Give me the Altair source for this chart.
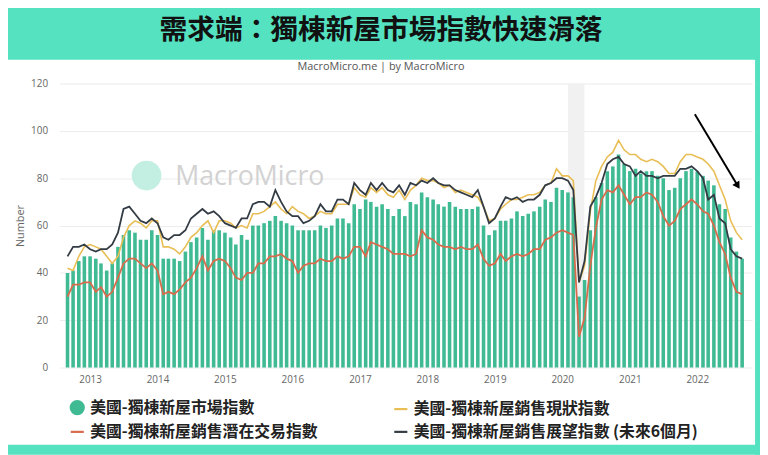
import altair as alt
import pandas as pd

# ---------------- data ----------------
months = pd.date_range("2012-09-01", periods=121, freq="MS")

hmi = [40, 41, 45, 47,
       47, 46, 44, 41, 44, 51, 56, 58, 57, 54, 54, 58,
       56, 46, 46, 46, 45, 49, 53, 55, 59, 54, 58, 58,
       57, 55, 52, 56, 54, 60, 60, 61, 62, 64, 62, 61,
       60, 58, 58, 58, 58, 60, 59, 60, 63, 63, 61, 69,
       67, 71, 70, 68, 69, 67, 64, 67, 64, 70, 69, 74,
       72, 71, 69, 68, 70, 68, 67, 67, 67, 68, 60, 56,
       58, 62, 62, 63, 66, 64, 65, 66, 68, 71, 70, 76,
       75, 74, 72, 30, 37, 58, 72, 78, 83, 85, 90, 86,
       83, 84, 82, 83, 83, 81, 80, 75, 76, 80, 83, 84,
       83, 81, 79, 77, 69, 67, 55, 49, 46]

current = [42, 41, 47, 51,
           52, 51, 50, 47, 44, 47, 55, 60, 62, 61, 59, 62,
           62, 51, 51, 50, 48, 51, 55, 57, 60, 62, 57, 62,
           62, 61, 59, 60, 59, 65, 65, 66, 68, 70, 67, 65,
           68, 66, 65, 63, 64, 66, 65, 65, 69, 69, 69, 76,
           73, 72, 76, 74, 76, 73, 72, 75, 71, 75, 77, 80,
           79, 79, 78, 76, 77, 74, 75, 74, 73, 72, 68, 62,
           63, 67, 69, 71, 71, 72, 73, 73, 74, 77, 78, 84,
           81, 81, 79, 36, 43, 66, 79, 85, 89, 91, 96, 92,
           90, 90, 88, 87, 88, 87, 85, 82, 82, 87, 90, 90,
           89, 88, 86, 83, 77, 71, 62, 57, 54]

traffic = [30, 35, 35, 36,
           36, 32, 34, 30, 32, 38, 44, 46, 46, 44, 42, 44,
           41, 31, 32, 31, 33, 36, 38, 42, 47, 41, 45, 46,
           45, 42, 38, 37, 40, 40, 44, 44, 47, 47, 48, 46,
           45, 40, 43, 44, 44, 46, 45, 45, 47, 46, 47, 51,
           51, 47, 53, 52, 51, 50, 48, 48, 48, 47, 48, 58,
           55, 54, 52, 51, 51, 50, 51, 50, 50, 52, 46, 43,
           44, 48, 45, 47, 48, 47, 48, 50, 50, 54, 55, 57,
           58, 57, 56, 13, 21, 43, 59, 71, 75, 74, 77, 73,
           69, 72, 72, 74, 73, 70, 64, 60, 62, 67, 69, 71,
           69, 66, 65, 60, 53, 48, 38, 32, 31]

expect = [47, 51, 51, 52,
          50, 49, 50, 50, 52, 57, 67, 68, 65, 62, 61, 63,
          61, 55, 54, 56, 56, 58, 63, 65, 67, 65, 66, 64,
          61, 60, 59, 63, 63, 69, 70, 70, 68, 75, 70, 66,
          64, 64, 61, 62, 64, 69, 66, 66, 71, 71, 69, 78,
          75, 73, 78, 75, 78, 75, 74, 77, 73, 78, 77, 79,
          78, 80, 78, 77, 77, 75, 74, 73, 72, 75, 68, 61,
          63, 68, 72, 71, 72, 70, 71, 71, 73, 77, 78, 80,
          80, 79, 75, 36, 45, 68, 72, 78, 86, 88, 89, 86,
          85, 81, 83, 81, 81, 80, 81, 81, 81, 84, 84, 85,
          83, 80, 71, 73, 63, 61, 50, 47, 46]

# legend order (column-major in the legend grid)
series_names = ["美國-獨棟新屋市場指數", "美國-獨棟新屋銷售潛在交易指數",
                "美國-獨棟新屋銷售現狀指數", "美國-獨棟新屋銷售展望指數 (未來6個月)"]
series_colors = ["#3fba93", "#d76b4c", "#e8be55", "#333b44"]
series_shapes = ["circle", "stroke", "stroke", "stroke"]
C_BAR, C_TRA, C_CUR, C_EXP = series_colors

band_start = ["2020-02-01"]
band_end = ["2020-04-30"]

arrow_x1 = ["2021-12-19"]
arrow_y1 = [107]
arrow_x2 = ["2022-08-08"]
arrow_y2 = [76.8]

year_ticks = list(range(2013, 2023))
y_ticks = [0, 20, 40, 60, 80, 100, 120]

title_text = "需求端：獨棟新屋市場指數快速滑落"
subtitle_text = "MacroMicro.me | by MacroMicro"

# ---------------- frames ----------------
bars_df = pd.DataFrame({"date": months, "value": hmi})
cur_df = pd.DataFrame({"date": months, "value": current})
tra_df = pd.DataFrame({"date": months, "value": traffic})
exp_df = pd.DataFrame({"date": months, "value": expect})
band_df = pd.DataFrame({"start": pd.to_datetime(band_start), "end": pd.to_datetime(band_end)})
arrow_df = pd.DataFrame({"x1": pd.to_datetime(arrow_x1), "y1": arrow_y1,
                         "x2": pd.to_datetime(arrow_x2), "y2": arrow_y2})
legend_df = pd.DataFrame({"series": series_names, "date": [months[0]] * 4, "value": [0] * 4})

W, H = 700, 287
FONT = "Open Sans"
CJK = "Noto Sans CJK TC"
GREEN = "#55e2c1"

xscale = alt.Scale(domain=[alt.DateTime(year=2012, month=8, date=15),
                           alt.DateTime(year=2022, month=9, date=28)])
yscale = alt.Scale(domain=[0, 120])

xaxis = alt.Axis(values=[alt.DateTime(year=y, month=1, date=1) for y in year_ticks],
                 format="%Y", labelColor="#666", labelFontSize=10, labelFont=FONT,
                 ticks=False, domain=False, grid=False, labelPadding=7, title=None,
                 labelAngle=0)
yaxis = alt.Axis(values=y_ticks, title="Number", titleColor="#666", titleFontSize=11,
                 titleFont=FONT, titleFontWeight="normal", titlePadding=5,
                 labelColor="#666", labelFontSize=10, labelFont=FONT, ticks=False,
                 domain=False, grid=True, gridColor="#ececec", labelPadding=12)


def X(field):
    return alt.X(f"{field}:T", scale=xscale, axis=xaxis)


def Y(field):
    return alt.Y(f"{field}:Q", scale=yscale, axis=yaxis)


one = alt.Data(values=[{"k": 1}])

# green frame around the white panel
frame_top = alt.Chart(one).mark_rect(color=GREEN).encode(
    x=alt.value(-60), x2=alt.value(710), y=alt.value(-84), y2=alt.value(-24))
frame_right = alt.Chart(one).mark_rect(color=GREEN).encode(
    x=alt.value(703), x2=alt.value(710), y=alt.value(-84), y2=alt.value(375))
frame_bottom = alt.Chart(one).mark_rect(color=GREEN).encode(
    x=alt.value(-60), x2=alt.value(710), y=alt.value(365), y2=alt.value(375))

title_mark = alt.Chart(one).mark_text(align="center", baseline="middle", font=CJK,
                                      fontSize=28, fontWeight="bold", color="#111").encode(
    x=alt.value(325), y=alt.value(-53), text=alt.value(title_text))
subtitle_mark = alt.Chart(one).mark_text(align="center", baseline="middle", font=FONT,
                                         fontSize=11, color="#555").encode(
    x=alt.value(325), y=alt.value(-17), text=alt.value(subtitle_text))

band = alt.Chart(band_df).mark_rect(color="#f1f1f1").encode(
    x=X("start"), x2="end:T", y=alt.value(0), y2=alt.value(H))

wm_circle = alt.Chart(one).mark_point(filled=True, color="#c3efe2", opacity=1).encode(
    x=alt.value(88), y=alt.value(93), size=alt.value(900), shape=alt.value("circle"))
wm_text = alt.Chart(one).mark_text(align="left", baseline="middle", fontSize=27,
                                   font=FONT, color="#d2d2d2").encode(
    x=alt.value(117), y=alt.value(94), text=alt.value("MacroMicro"))

bars = alt.Chart(bars_df).mark_bar(size=3.6, color=C_BAR).encode(
    x=X("date"), y=Y("value"))

line_tra = alt.Chart(tra_df).mark_line(color=C_TRA, strokeWidth=1.8).encode(
    x=X("date"), y=Y("value"))
line_cur = alt.Chart(cur_df).mark_line(color=C_CUR, strokeWidth=1.6).encode(
    x=X("date"), y=Y("value"))
line_exp = alt.Chart(exp_df).mark_line(color=C_EXP, strokeWidth=1.8).encode(
    x=X("date"), y=Y("value"))

arrow_line = alt.Chart(arrow_df).mark_rule(color="black", strokeWidth=2).encode(
    x=X("x1"), x2="x2:T", y=Y("y1"), y2="y2:Q")
arrow_head = alt.Chart(arrow_df).mark_point(filled=True, color="black", opacity=1,
                                            shape="triangle-up", angle=148, size=70).encode(
    x=X("x2"), y=Y("y2"))

leg = alt.Legend(orient="none", legendX=10, legendY=319, columns=2, title=None,
                 labelFont=CJK, labelFontSize=16, labelFontWeight="bold",
                 labelColor="#222", symbolSize=175, symbolStrokeWidth=2.2,
                 symbolOpacity=1, rowPadding=5, columnPadding=72, labelOffset=5,
                 labelLimit=500)
color_scale = alt.Scale(domain=series_names, range=series_colors)
legend_layer = alt.Chart(legend_df).mark_point(filled=True, opacity=0).encode(
    x=X("date"), y=Y("value"),
    fill=alt.Fill("series:N", scale=color_scale, legend=leg, sort=series_names),
    stroke=alt.Stroke("series:N", scale=color_scale, legend=leg, sort=series_names),
    shape=alt.Shape("series:N", scale=alt.Scale(domain=series_names, range=series_shapes),
                    legend=leg, sort=series_names),
)

chart = alt.layer(
    frame_top, frame_right, frame_bottom, title_mark, subtitle_mark,
    band, wm_circle, wm_text, bars, line_tra, line_cur, line_exp,
    arrow_line, arrow_head, legend_layer
).properties(
    width=W, height=H,
    background="white",
    padding={"left": 52, "top": 74, "right": 8, "bottom": 86},
    autosize=alt.AutoSizeParams(type="none"),
).configure_view(strokeWidth=0)

chart.save("out.html", embed_options={"renderer": "svg", "actions": False})
